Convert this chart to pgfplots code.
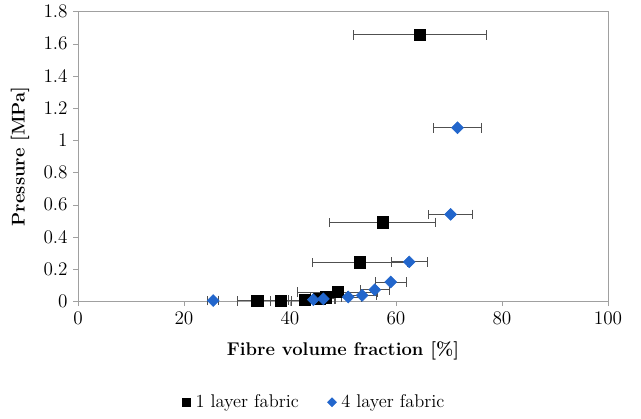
\documentclass[border=0pt]{standalone}
\usepackage{pgfplots}
\pgfplotsset{compat=1.18}
\definecolor{fourblue}{HTML}{2266CC}
\definecolor{barcol}{HTML}{505050}
\definecolor{axcol}{HTML}{A0A0A0}

\begin{document}
\begin{tikzpicture}
\begin{axis}[
    width=331pt, height=181pt,
    scale only axis,
    clip=false,
    font=\fontsize{11.5}{13}\selectfont,
    xmin=0, xmax=100,
    ymin=0, ymax=1.8,
    xtick={0,20,...,100},
    ytick={0,0.2,...,1.8},
    yticklabel style={/pgf/number format/fixed, /pgf/number format/precision=1},
    axis line style={axcol},
    tick style={axcol},
    tick align=outside,
    xtick pos=bottom, ytick pos=left,
    major tick length=3pt,
    xlabel={\textbf{Fibre volume fraction [\%]}},
    ylabel={\textbf{Pressure [MPa]}},
    xlabel style={yshift=-4pt},
    ylabel style={yshift=2pt},
    legend style={at={(0.447,-0.348)}, anchor=center, draw=none, legend columns=2,
        font=\fontsize{11.5}{13}\selectfont,
        /tikz/every odd column/.append style={column sep=1pt},
        /tikz/every even column/.append style={column sep=16pt}},
    legend cell align=left,
    legend image post style={scale=0.75},
    error bars/error bar style={barcol, line width=0.6pt},
    error bars/error mark options={barcol, mark size=3pt, line width=0.6pt, rotate=90},
]
% 1 layer fabric
\addplot[only marks, mark=square*, mark size=3.6pt, mark options={fill=black, draw=black},
    error bars/.cd, x dir=both, x explicit]
coordinates {
    (33.8,0.003) +- (3.7,0)
    (38.3,0.003) +- (2.0,0)
    (42.8,0.008) +- (3.0,0)
    (45.5,0.015) +- (3.0,0)
    (46.8,0.026) +- (3.0,0)
    (49.0,0.058) +- (7.5,0)
    (53.2,0.242) +- (8.9,0)
    (57.5,0.490) +- (10.0,0)
    (64.5,1.655) +- (12.6,0)
};
% 4 layer fabric
\addplot[only marks, mark=square*, mark size=2.6pt, mark options={fill=fourblue, draw=fourblue, rotate=45},
    error bars/.cd, x dir=both, x explicit]
coordinates {
    (25.5,0.005) +- (1.0,0)
    (44.4,0.010) +- (2.0,0)
    (46.3,0.015) +- (2.0,0)
    (51.0,0.027) +- (2.5,0)
    (53.6,0.037) +- (2.7,0)
    (56.0,0.072) +- (2.7,0)
    (59.0,0.120) +- (2.9,0)
    (62.5,0.245) +- (3.4,0)
    (70.3,0.540) +- (4.2,0)
    (71.6,1.078) +- (4.5,0)
};
\legend{1 layer fabric, 4 layer fabric}
\path (axis description cs:-0.1472,-0.4034) rectangle (axis description cs:1.0623,1.0379);
\end{axis}
\end{tikzpicture}
\end{document}
